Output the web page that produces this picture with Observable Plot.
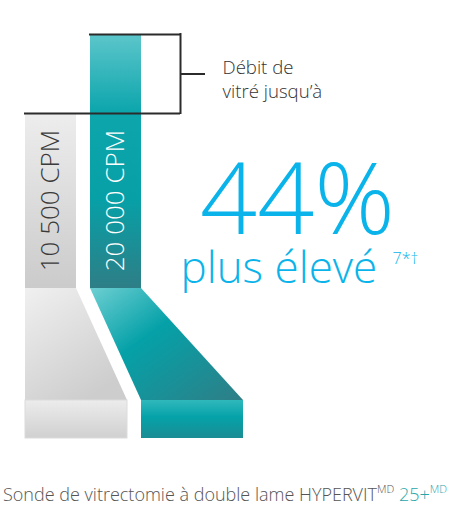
<!DOCTYPE html>
<html><head><meta charset="utf-8">
<script src="https://cdn.jsdelivr.net/npm/d3@7"></script>
<script src="https://cdn.jsdelivr.net/npm/@observablehq/plot@0.6"></script>
<style>
html,body{margin:0;padding:0;background:#fff;}
#chart svg{display:block;}
#caption{font-family:"Open Sans",sans-serif;font-weight:300;font-size:18px;color:#555;white-space:nowrap;padding-left:3px;margin-top:22px;letter-spacing:0;}
#caption sup{font-size:11px;vertical-align:top;position:relative;top:-1px;}
#caption .model{color:#2aa6aa;}
</style></head><body>
<div id="chart"></div>
<div id="caption"></div>
<script>
// ---- data ----
const probes = ["10 500 CPM", "20 000 CPM"];
const cpm = [10500, 20000];
const bracketLabel = ["Débit de", "vitré jusqu’à"];
const headline = "44%";
const subline = "plus élevé";
const footnote = "7*†";
const captionText = "Sonde de vitrectomie à double lame HYPERVIT";
const captionSup = "MD";
const captionModel = "25+";

// ---- layout ----
const W = 450, H = 460;
const barLeft = [25, 90], barW = 51, baseY = 288;
const taperY = 400, tipY = 438, tipW = 102, tipLeft = [25, 141];
const cpmToY = d3.scaleLinear([10500, 20000], [113, 34]);
const fills = [
  {bar: "url(#gBar0)", taper: "url(#gTaper0)", tip: "url(#gTip0)", label: "#3a3a3a"},
  {bar: "url(#gBar1)", taper: "url(#gTaper1)", tip: "url(#gTip1)", label: "#ffffff"}
];

const bars = probes.map((p, i) => ({
  probe: p, value: cpm[i], x1: barLeft[i], x2: barLeft[i] + barW,
  y1: baseY, y2: cpmToY(cpm[i]), fill: fills[i].bar, label: fills[i].label
}));
const tapers = probes.flatMap((p, i) => [
  {probe: p, y: baseY, x1: barLeft[i], x2: barLeft[i] + barW},
  {probe: p, y: taperY, x1: tipLeft[i], x2: tipLeft[i] + tipW}
]);
const tips = probes.map((p, i) => ({probe: p, x1: tipLeft[i], x2: tipLeft[i] + tipW, y1: taperY, y2: tipY, fill: fills[i].tip}));

const yHi = cpmToY(d3.max(cpm)), yLo = cpmToY(d3.min(cpm));
const bx = 180;
const bracketH = [
  {y: yHi, x1: barLeft[1] - 1, x2: bx},
  {y: yLo, x1: barLeft[0] - 1, x2: bx},
  {y: (yHi + yLo) / 2, x1: bx, x2: bx + 25}
];

const font = "Open Sans";
const chart = Plot.plot({
  width: W, height: H, margin: 0,
  x: {domain: [0, W], range: [0, W], axis: null},
  y: {domain: [0, H], range: [0, H], axis: null},
  style: {fontFamily: font, background: "#fff"},
  marks: [
    Plot.rect(bars, {x1: "x1", x2: "x2", y1: "y1", y2: "y2", fill: d => d.fill}),
    ...probes.map((p, i) => Plot.areaX(tapers.filter(d => d.probe === p), {y: "y", x1: "x1", x2: "x2", fill: fills[i].taper, curve: "linear"})),
    Plot.rect(tips, {x1: "x1", x2: "x2", y1: "y1", y2: "y2", fill: d => d.fill, stroke: (d, i) => i === 0 ? "#dcdcdc" : "none", strokeWidth: 1}),
    Plot.text(bars, {x: d => (d.x1 + d.x2) / 2, y: 200, text: "probe", rotate: -90, fill: "label", fontSize: 26, fontWeight: 300, lineAnchor: "middle", textAnchor: "middle"}),
    Plot.ruleY(bracketH, {y: "y", x1: "x1", x2: "x2", stroke: "#2b2b2b", strokeWidth: 2}),
    Plot.ruleX([bx], {x: d => d, y1: yHi - 1, y2: yLo + 1, stroke: "#2b2b2b", strokeWidth: 2}),
    Plot.text([bracketLabel.join("\n")], {x: 222, y: 78, text: d => d, textAnchor: "start", lineAnchor: "middle", fontSize: 18.6, fontWeight: 300, fill: "#333", lineHeight: 1.25}),
    Plot.text([headline], {x: 297, y: 233, text: d => d, textAnchor: "middle", lineAnchor: "bottom", fontSize: 100, fontWeight: 300, fill: "#0ab4ea"}),
    Plot.text([subline], {x: 180, y: 282, text: d => d, textAnchor: "start", lineAnchor: "bottom", fontSize: 44, fontWeight: 300, fill: "#0ab4ea"}),
    Plot.text([footnote], {x: 392, y: 263, text: d => d, textAnchor: "start", lineAnchor: "bottom", fontSize: 16, fontWeight: 300, fill: "#0ab4ea"})
  ]
});

// gradients
const defs = d3.select(chart).insert("defs", ":first-child");
function grad(id, stops, x2 = 0, y2 = 1) {
  const g = defs.append("linearGradient").attr("id", id).attr("x1", 0).attr("y1", 0).attr("x2", x2).attr("y2", y2);
  stops.forEach(([o, c]) => g.append("stop").attr("offset", o).attr("stop-color", c));
}
grad("gBar0", [[0, "#ededed"], [1, "#cbcbcb"]]);
grad("gBar1", [[0, "#5cc6cb"], [0.3, "#0ea6ad"], [0.65, "#07a0a7"], [1, "#2e7e86"]]);
grad("gTaper0", [[0, "#f0f0f0"], [1, "#cdcdcd"]], 0.6, 1);
grad("gTaper1", [[0, "#6dcfd2"], [0.4, "#05a1a8"], [1, "#2f7e86"]], 1, 1);
grad("gTip0", [[0, "#ececec"], [1, "#d0d0d0"]]);
grad("gTip1", [[0, "#30b8bc"], [0.45, "#05a2a9"], [1, "#1b8c93"]]);

document.getElementById("chart").appendChild(chart);
document.getElementById("caption").innerHTML =
  `${captionText}<sup>${captionSup}</sup> <span class="model">${captionModel}<sup>${captionSup}</sup></span>`;
</script>
</body></html>
